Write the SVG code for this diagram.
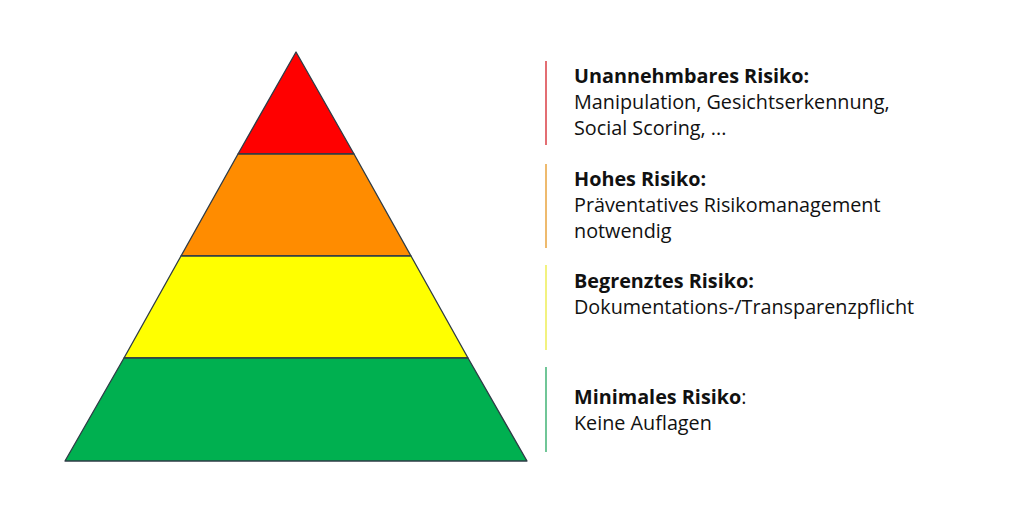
<svg xmlns="http://www.w3.org/2000/svg" width="1024" height="508" viewBox="0 0 1024 508">
<style>
.band{stroke:#2e3b46;stroke-width:1.3;stroke-linejoin:round}
.t{font-family:"Open Sans","Liberation Sans",sans-serif;font-size:19.8px;fill:#111}
.b{font-weight:bold}
.bar{stroke-width:1.6}
</style>
<rect width="1024" height="508" fill="#fff"/>
<g id="level-unacceptable">
<polygon class="band" fill="#FF0000" points="296,52 238,154 354,154"/>
</g>
<g id="level-high">
<polygon class="band" fill="#FF8C00" points="238,154 354,154 411,256 181,256"/>
</g>
<g id="level-limited">
<polygon class="band" fill="#FFFF00" points="181,256 411,256 468,358 124,358"/>
</g>
<g id="level-minimal">
<polygon class="band" fill="#00B050" points="124,358 468,358 527,461 65,461"/>
</g>
<g id="connectors">
<line class="bar" x1="546" y1="61" x2="546" y2="145" stroke="#DC4A50"/>
<line class="bar" x1="546" y1="164" x2="546" y2="248" stroke="#EAA94A"/>
<line class="bar" x1="546" y1="265" x2="546" y2="350" stroke="#EFEF60"/>
<line class="bar" x1="546" y1="367" x2="546" y2="452" stroke="#4DB87E"/>
</g>
<g id="label-unacceptable">
<text class="t b" x="574" y="83">Unannehmbares Risiko:</text>
<text class="t" x="574" y="109">Manipulation, Gesichtserkennung,</text>
<text class="t" x="574" y="135">Social Scoring, ...</text>
</g>
<g id="label-high">
<text class="t b" x="574" y="186">Hohes Risiko:</text>
<text class="t" x="574" y="212">Präventatives Risikomanagement</text>
<text class="t" x="574" y="238">notwendig</text>
</g>
<g id="label-limited">
<text class="t b" x="574" y="288">Begrenztes Risiko:</text>
<text class="t" x="574" y="314">Dokumentations-/Transparenzpflicht</text>
</g>
<g id="label-minimal">
<text class="t" x="574" y="404"><tspan class="b">Minimales Risiko</tspan>:</text>
<text class="t" x="574" y="430">Keine Auflagen</text>
</g>
</svg>
